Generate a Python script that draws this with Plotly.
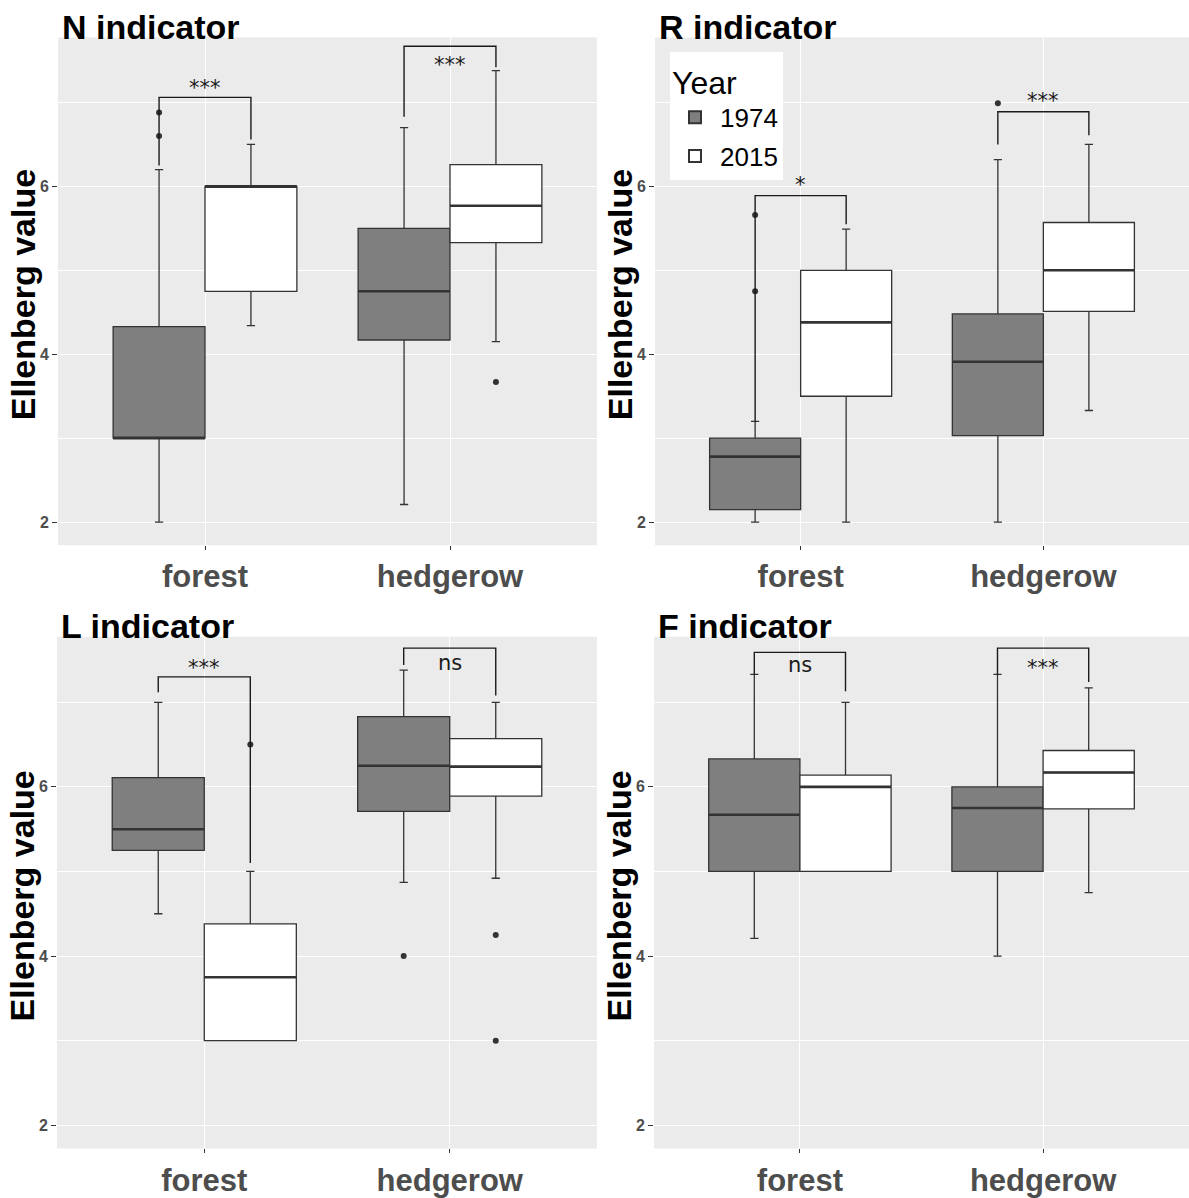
import plotly.graph_objects as go

HABITATS = ["forest", "hedgerow"]
YEARS = ["1974", "2015"]
PANELS = ["N indicator", "R indicator", "L indicator", "F indicator"]

# Box summaries per habitat (forest, hedgerow): whisker ends, quartiles, median
N_1974 = {"lower": [2.00, 2.21], "q1": [3.00, 4.17], "median": [3.00, 4.75], "q3": [4.33, 5.50], "upper": [6.20, 6.70]}
N_2015 = {"lower": [4.34, 4.15], "q1": [4.75, 5.33], "median": [6.00, 5.77], "q3": [6.00, 6.26], "upper": [6.50, 7.38]}
R_1974 = {"lower": [2.00, 2.00], "q1": [2.15, 3.03], "median": [2.78, 3.91], "q3": [3.00, 4.48], "upper": [3.20, 6.32]}
R_2015 = {"lower": [2.00, 3.33], "q1": [3.50, 4.51], "median": [4.38, 5.00], "q3": [5.00, 5.57], "upper": [5.49, 6.50]}
L_1974 = {"lower": [4.50, 4.87], "q1": [5.25, 5.71], "median": [5.50, 6.25], "q3": [6.11, 6.83], "upper": [7.00, 7.38]}
L_2015 = {"lower": [3.00, 4.92], "q1": [3.00, 5.89], "median": [3.75, 6.24], "q3": [4.38, 6.57], "upper": [5.00, 7.00]}
F_1974 = {"lower": [4.21, 4.00], "q1": [5.00, 5.00], "median": [5.67, 5.75], "q3": [6.33, 6.00], "upper": [7.33, 7.33]}
F_2015 = {"lower": [5.00, 4.75], "q1": [5.00, 5.74], "median": [6.00, 6.17], "q3": [6.14, 6.43], "upper": [7.00, 7.17]}

# Outlying observations per habitat (forest, hedgerow)
N_1974_OUT = [[6.88, 6.60], []]
N_2015_OUT = [[], [3.67]]
R_1974_OUT = [[5.66, 4.75], [6.99]]
R_2015_OUT = [[], []]
L_1974_OUT = [[], [4.00]]
L_2015_OUT = [[6.50], [4.25, 3.00]]
F_1974_OUT = [[], []]
F_2015_OUT = [[], []]

# Significance of 1974 vs 2015 per habitat, with bracket heights in data units
N_SIG = {"label": ["***", "***"], "bar": [7.06, 7.67], "tip_1974": [6.25, 6.83], "tip_2015": [6.56, 7.42], "text_y": [7.23, 7.51]}
R_SIG = {"label": ["*", "***"], "bar": [5.89, 6.89], "tip_1974": [3.20, 6.50], "tip_2015": [5.55, 6.61], "text_y": [6.08, 7.08]}
L_SIG = {"label": ["***", "ns"], "bar": [7.30, 7.64], "tip_1974": [7.12, 7.44], "tip_2015": [5.10, 7.08], "text_y": [7.47, 7.47]}
F_SIG = {"label": ["ns", "***"], "bar": [7.59, 7.64], "tip_1974": [7.33, 7.33], "tip_2015": [7.13, 7.24], "text_y": [7.44, 7.47]}

panel_data = [
    (N_1974, N_2015, N_1974_OUT, N_2015_OUT, N_SIG),
    (R_1974, R_2015, R_1974_OUT, R_2015_OUT, R_SIG),
    (L_1974, L_2015, L_1974_OUT, L_2015_OUT, L_SIG),
    (F_1974, F_2015, F_1974_OUT, F_2015_OUT, F_SIG),
]

W, H = 1189, 1198
FONT = "Liberation Sans, Arial, sans-serif"
SIG_FONT = "DejaVu Sans, sans-serif"
FILLS = {"1974": "#7f7f7f", "2015": "#ffffff"}
LINE = "#333333"
BOX_W = 0.375
DODGE = {"1974": -BOX_W / 2, "2015": BOX_W / 2}
CAT_POS = [1, 2]

# Panel placement in pixels: (left, right, top, bottom)
PANEL_PX = [(58, 597, 38, 554), (655, 1189, 38, 554), (57, 597, 647, 1167), (654, 1189, 647, 1167)]

fig = go.Figure()
layout = dict(
    width=W, height=H,
    margin=dict(l=0, r=0, t=0, b=0),
    paper_bgcolor="white",
    plot_bgcolor="#ebebeb",
    boxmode="overlay",
    showlegend=True,
)
annotations = []
shapes = []

for i, (title, (d74, d15, o74, o15, sig)) in enumerate(zip(PANELS, panel_data)):
    n = "" if i == 0 else str(i + 1)
    xa, ya = "x" + n, "y" + n
    left, right, top, bottom = PANEL_PX[i]
    layout["xaxis" + n] = dict(
        domain=[left / W, right / W], range=[0.4, 2.6], anchor=ya,
        tickvals=CAT_POS, ticktext=HABITATS,
        showgrid=True, gridcolor="white", gridwidth=1.4, zeroline=False, showline=False,
        ticks="outside", ticklen=4, tickwidth=1, tickcolor=LINE,
        tickfont=dict(family=FONT, size=31, color="#4d4d4d", weight="bold"),
    )
    layout["yaxis" + n] = dict(
        domain=[1 - bottom / H, 1 - top / H], range=[1.725, 7.775], anchor=xa,
        tickvals=[2, 4, 6], showgrid=True, gridcolor="white", gridwidth=1.4,
        minor=dict(tickvals=[3, 5, 7], showgrid=True, gridcolor="white", gridwidth=0.6, ticks=""),
        zeroline=False, showline=False,
        ticks="outside", ticklen=5, tickwidth=1, tickcolor=LINE,
        tickfont=dict(family=FONT, size=16, color="#4d4d4d", weight="bold"),
    )

    for year, stats, outs in (("1974", d74, o74), ("2015", d15, o15)):
        xs = [c + DODGE[year] for c in CAT_POS]
        fig.add_trace(go.Box(
            x=xs, q1=stats["q1"], median=stats["median"], q3=stats["q3"],
            lowerfence=stats["lower"], upperfence=stats["upper"],
            width=BOX_W, whiskerwidth=0.09,
            fillcolor=FILLS[year], line=dict(color=LINE, width=1.3),
            name=year, legendgroup=year, showlegend=(i == 0),
            xaxis=xa, yaxis=ya, hoverinfo="skip",
        ))
        # heavier median bars
        mx, my = [], []
        for x0, m in zip(xs, stats["median"]):
            mx += [x0 - BOX_W / 2, x0 + BOX_W / 2, None]
            my += [m, m, None]
        fig.add_trace(go.Scatter(
            x=mx, y=my, mode="lines", line=dict(color=LINE, width=2.6),
            showlegend=False, xaxis=xa, yaxis=ya, hoverinfo="skip",
        ))
        ox, oy = [], []
        for x0, vals in zip(xs, outs):
            ox += [x0] * len(vals)
            oy += vals
        if oy:
            fig.add_trace(go.Scatter(
                x=ox, y=oy, mode="markers", marker=dict(color=LINE, size=6),
                showlegend=False, xaxis=xa, yaxis=ya, hoverinfo="skip",
            ))

    # significance brackets and labels
    for k, c in enumerate(CAT_POS):
        xl, xr = c + DODGE["1974"], c + DODGE["2015"]
        shapes.append(dict(
            type="path", xref=xa, yref=ya,
            path=f"M {xl},{sig['tip_1974'][k]} L {xl},{sig['bar'][k]} L {xr},{sig['bar'][k]} L {xr},{sig['tip_2015'][k]}",
            line=dict(color="#1a1a1a", width=1.4),
        ))
        lab = sig["label"][k]
        annotations.append(dict(
            x=c, y=sig["text_y"][k], xref=xa, yref=ya, text=lab, showarrow=False,
            xanchor="center", yanchor="middle", yshift=(-5 if "*" in lab else 0),
            font=dict(family=SIG_FONT, size=21, color="#1a1a1a"),
        ))

    # panel title
    annotations.append(dict(
        x=(left + 2) / W, y=1 - (top - 11) / H, xref="paper", yref="paper",
        text=title, showarrow=False, xanchor="left", yanchor="middle",
        font=dict(family=FONT, size=34, color="black", weight="bold"),
    ))
    # y-axis title
    annotations.append(dict(
        x=(left - 35) / W, y=1 - ((top + bottom) / 2 + 4) / H, xref="paper", yref="paper",
        text="Ellenberg value", showarrow=False, textangle=-90,
        xanchor="center", yanchor="middle",
        font=dict(family=FONT, size=34, color="black", weight="bold"),
    ))

layout["annotations"] = annotations
layout["shapes"] = shapes
layout["legend"] = dict(
    x=670 / W, y=1 - 53 / H, xanchor="left", yanchor="top",
    bgcolor="white", borderwidth=0,
    title=dict(text="Year", font=dict(family=FONT, size=32, color="black")),
    font=dict(family=FONT, size=26, color="black"),
    itemsizing="constant", itemwidth=40, tracegroupgap=2,
)
fig.update_layout(**layout)

fig.write_html("out.html")
